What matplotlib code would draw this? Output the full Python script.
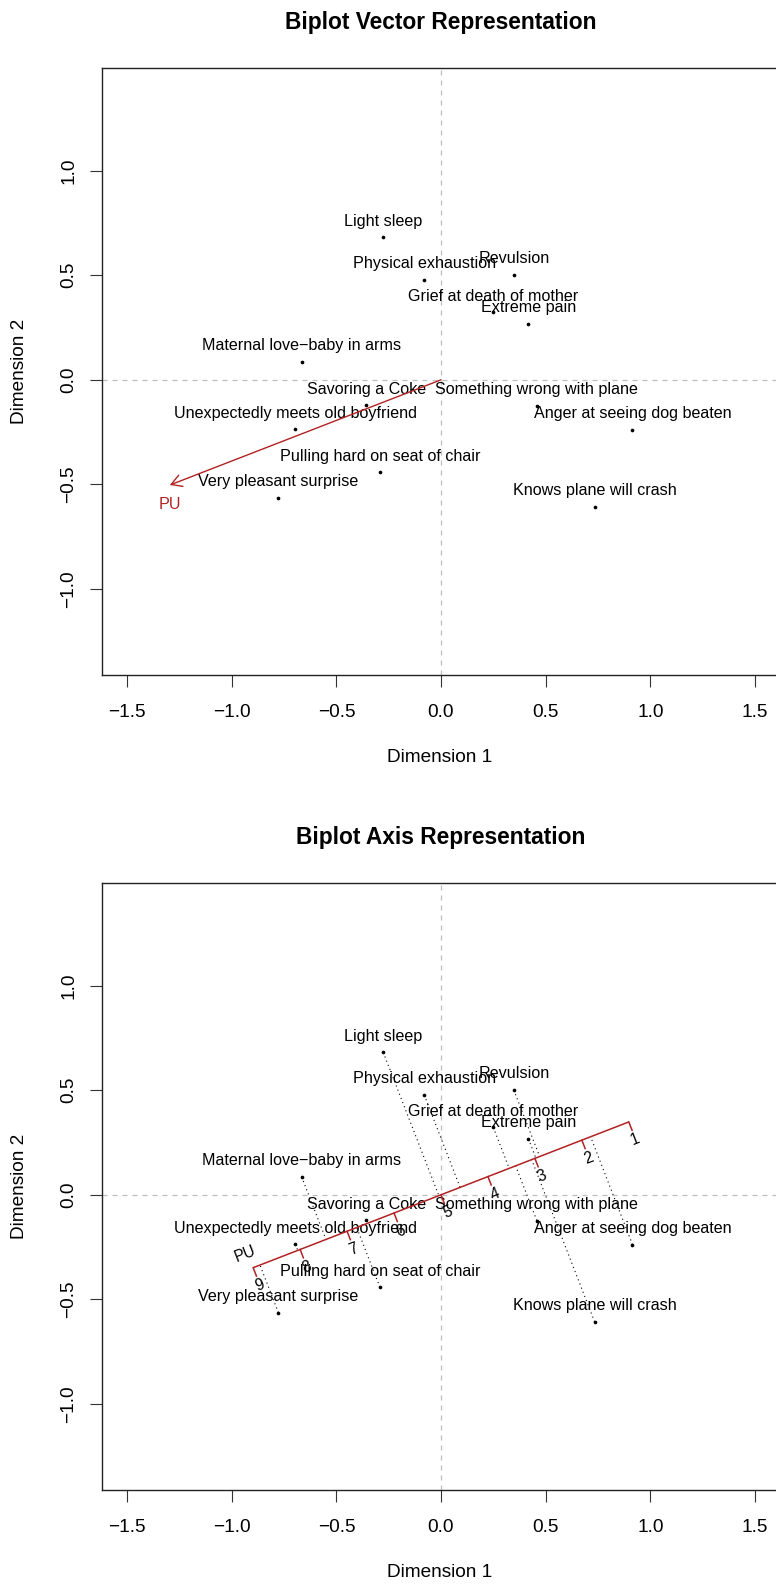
import numpy as np
import matplotlib
matplotlib.use("Agg")
import matplotlib.pyplot as plt

plt.rcParams['font.family'] = ['Liberation Sans', 'DejaVu Sans']

# stimuli and their coordinates on the two dimensions
labels = ["Light sleep", "Physical exhaustion", "Revulsion",
          "Grief at death of mother", "Extreme pain",
          "Maternal love\u2212baby in arms", "Savoring a Coke",
          "Unexpectedly meets old boyfriend", "Something wrong with plane",
          "Anger at seeing dog beaten", "Pulling hard on seat of chair",
          "Very pleasant surprise", "Knows plane will crash"]
dim1 = [-0.276, -0.080, 0.348, 0.250, 0.418, -0.666, -0.357, -0.696,
        0.458, 0.915, -0.292, -0.777, 0.734]
dim2 = [0.681, 0.477, 0.501, 0.322, 0.267, 0.086, -0.121, -0.236,
        -0.123, -0.238, -0.442, -0.563, -0.607]

# PU (pleasant-unpleasant) vector and its calibration
pu_name = "PU"
pu_vec = [-1.296, -0.503]
pu_scale = [1, 2, 3, 4, 5, 6, 7, 8, 9]
pu_center = 5
pu_step = 0.2407   # data units per scale point

x_ticks = [-1.5, -1.0, -0.5, 0.0, 0.5, 1.0, 1.5]
y_ticks = [-1.0, -0.5, 0.0, 0.5, 1.0]

RED = '#B22222'
W, H, DPI = 776, 1584, 100
PPU = 209.25  # pixels per data unit (asp = 1)

fig = plt.figure(figsize=(W / DPI, H / DPI), dpi=DPI)


def make_axes(top_px, title):
    left_px, bot_px = 101.7, top_px + 606.6
    ax = fig.add_axes([left_px / W, 1 - bot_px / H, 678.6 / W, 606.6 / H])
    ax.set_xlim(-1.6215, 1.6215)
    ax.set_ylim(-1.4105, 1.489)
    ax.set_xticks(x_ticks)
    ax.set_yticks(y_ticks)
    ax.set_xticklabels([f"{t:.1f}".replace('-', '\u2212') for t in x_ticks])
    ax.set_yticklabels([f"{t:.1f}".replace('-', '\u2212') for t in y_ticks])
    ax.tick_params(axis='both', length=8.6, width=0.8, labelsize=13.7,
                   color='#333333')
    ax.tick_params(axis='x', pad=12.7)
    ax.tick_params(axis='y', pad=8.8)
    plt.setp(ax.get_yticklabels(), rotation=90, va='center')
    for s in ax.spines.values():
        s.set_linewidth(1.0)
        s.set_color('#222222')
    ax.axhline(0, color='#BEBEBE', lw=0.9, ls=(0, (4, 4)), zorder=0)
    ax.axvline(0, color='#BEBEBE', lw=0.9, ls=(0, (4, 4)), zorder=0)
    ax.scatter(dim1, dim2, s=7, color='black', zorder=3, linewidths=0)
    for lab, x, y in zip(labels, dim1, dim2):
        ax.annotate(lab, (x, y), xytext=(0, 8.3), textcoords='offset points',
                    ha='center', va='baseline', fontsize=11.6, zorder=4)
    fig.text(441 / W, 1 - (top_px - 46) / H, title, ha='center',
             va='center', fontsize=16.4, fontweight='bold')
    fig.text(440 / W, 1 - (bot_px + 83) / H, "Dimension 1", ha='center',
             va='center', fontsize=13.7)
    fig.text(20 / W, 1 - (top_px + 303.3) / H, "Dimension 2", ha='center',
             va='center', fontsize=13.7, rotation=90)
    return ax


# ---- top: vector representation ----
ax1 = make_axes(68.3, "Biplot Vector Representation")
ax1.annotate("", xy=(pu_vec[0], pu_vec[1]), xytext=(0, 0),
             arrowprops=dict(arrowstyle='->,head_length=0.75,head_width=0.43',
                             color=RED, lw=1.0, shrinkA=0, shrinkB=0,
                             mutation_scale=10), zorder=5)
ax1.annotate(pu_name, (pu_vec[0], pu_vec[1]), xytext=(0, -13.7),
             textcoords='offset points', ha='center', va='center',
             fontsize=11.6, color=RED)

# ---- bottom: axis representation ----
ax2 = make_axes(883.3, "Biplot Axis Representation")
pv = np.array(pu_vec)
d = pv / np.linalg.norm(pv)          # unit direction of increasing PU
n = np.array([-d[1], d[0]])          # perpendicular (lower-right side)
if n[1] > 0:
    n = -n
ang = np.degrees(np.arctan2(d[1], d[0])) + 180

# projections of each stimulus onto the PU axis
pts = np.column_stack([dim1, dim2])
proj = (pts @ d)[:, None] * d
for p, q in zip(pts, proj):
    ax2.plot([p[0], q[0]], [p[1], q[1]], color='black', lw=0.8,
             ls=(0, (1, 3)), zorder=2)

pos = np.array([(v - pu_center) * pu_step * d for v in pu_scale])
ax2.plot([pos[0, 0], pos[-1, 0]], [pos[0, 1], pos[-1, 1]], color=RED,
         lw=1.1, zorder=5, solid_capstyle='butt')
tick_len = 9 / PPU
for v, p in zip(pu_scale, pos):
    e = p + n * tick_len
    ax2.plot([p[0], e[0]], [p[1], e[1]], color=RED, lw=1.1, zorder=5)
    ax2.annotate(str(v), (p[0], p[1]), xytext=(n[0] * 13.7, n[1] * 13.7),
                 textcoords='offset points', ha='center', va='center',
                 rotation=ang, rotation_mode='anchor', fontsize=11.2,
                 zorder=6)
ax2.annotate(pu_name, (pos[-1, 0], pos[-1, 1]),
             xytext=(-n[0] * 11.5 + d[0] * 1.5, -n[1] * 11.5 + d[1] * 1.5),
             textcoords='offset points', ha='center', va='center',
             rotation=ang, rotation_mode='anchor', fontsize=11.2, zorder=6)

fig.savefig("out.png", dpi=DPI)
